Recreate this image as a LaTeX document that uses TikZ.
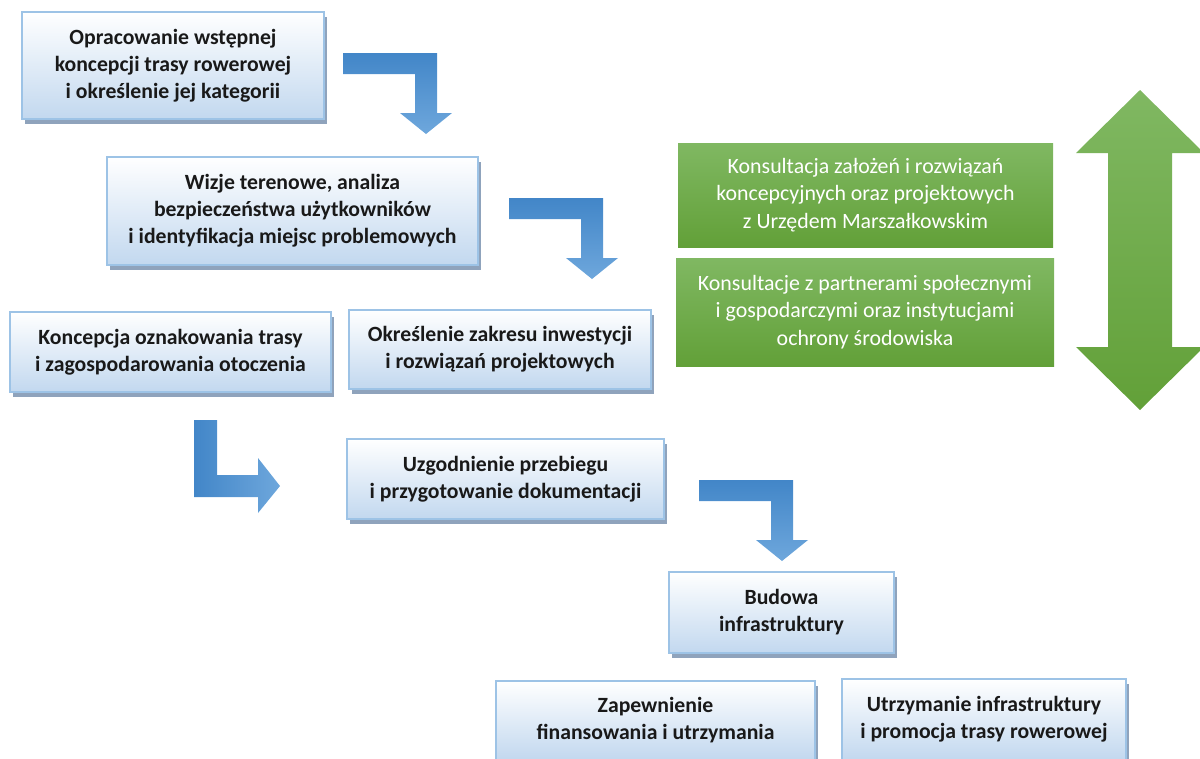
\documentclass[tikz,border=0pt]{standalone}
\usepackage{fontspec}
\setmainfont{Carlito}
\usetikzlibrary{shadows}

\begin{document}
\begin{tikzpicture}[x=0.75pt, y=-0.75pt,
  box/.style={draw=boxedge, line width=1.5pt,
    top color=white, bottom color=boxblue,
    drop shadow={fill=boxshade, opacity=1,
                 shadow xshift=2.25pt, shadow yshift=-3.5pt},
    align=center, text=black!90,
    font=\bfseries\fontsize{16.3pt}{20.25pt}\selectfont},
  consult/.style={top color=greentop, bottom color=greenbot,
    align=center, text=white,
    font=\fontsize{16.4pt}{20.6pt}\selectfont}]

\definecolor{boxedge}{RGB}{157,195,230}
\definecolor{boxblue}{RGB}{194,216,239}
\definecolor{boxshade}{RGB}{143,163,188}
\definecolor{arrowdark}{RGB}{66,134,200}
\definecolor{arrowlight}{RGB}{110,167,220}
\definecolor{greentop}{RGB}{128,184,98}
\definecolor{greenbot}{RGB}{98,160,56}

\useasboundingbox (0,0) rectangle (1200,758);
\clip (0,0) rectangle (1200,758);

% The bent arrows go first; they sit between the boxes and touch none.
\foreach \ax/\ay in {343/53, 509/198, 699/480}
  \shade[top color=arrowdark, bottom color=arrowlight, shift={(\ax,\ay)}]
    (0,0) -- (94,0) -- (94,60) -- (109,60) -- (83,81)
    -- (57,60) -- (72,60) -- (72,21) -- (0,21) -- cycle;

% this one turns the other way
\shade[left color=arrowdark, right color=arrowlight]
  (194,420) -- (217,420) -- (217,475) -- (258,475) -- (258,458)
  -- (280,486) -- (258,513) -- (258,497) -- (194,497) -- cycle;

% Double arrow on the right, cut off by the page edge.
\shade[top color=greentop, bottom color=greenbot]
  (1140,90) -- (1204,153) -- (1172,153) -- (1172,347) -- (1204,347)
  -- (1140,410) -- (1076,347) -- (1108,347) -- (1108,153) -- (1076,153)
  -- cycle;

% Now the boxes, top to bottom.
\node[box, minimum width=226.5pt, minimum height=80.25pt] (opr) at (173,65.5)
  {Opracowanie wstępnej\\koncepcji trasy rowerowej\\i określenie jej kategorii};
\node[box, minimum width=278.25pt, minimum height=81pt] (wiz) at (292.5,211)
  {Wizje terenowe, analiza\\bezpieczeństwa użytkowników\\i identyfikacja miejsc problemowych};
\node[box, minimum width=240.75pt, minimum height=60pt] (kon) at (170.5,352)
  {Koncepcja oznakowania trasy\\i zagospodarowania otoczenia};
\node[box, minimum width=226.5pt, minimum height=59.25pt] (okr) at (500,349.5)
  {Określenie zakresu inwestycji\\i rozwiązań projektowych};
\node[box, minimum width=237.75pt, minimum height=60pt] (uzg) at (505.5,479)
  {Uzgodnienie przebiegu\\i przygotowanie dokumentacji};
\node[box, minimum width=168.75pt, minimum height=60.75pt] (bud) at (781.5,612.5)
  {Budowa\\infrastruktury};
\node[box, minimum width=239.25pt, minimum height=59.25pt] (zap) at (655.5,720.5)
  {Zapewnienie\\finansowania i utrzymania};
\node[box, minimum width=213pt, minimum height=60.75pt] (utr) at (984,719.5)
  {Utrzymanie infrastruktury\\i promocja trasy rowerowej};

% green consultation boxes
\node[consult, minimum width=281.25pt, minimum height=78pt] (uml) at (865.5,195)
  {Konsultacja założeń i rozwiązań\\koncepcyjnych oraz projektowych\\z Urzędem Marszałkowskim};
\node[consult, minimum width=283.5pt, minimum height=81pt] (prt) at (865,312)
  {Konsultacje z partnerami społecznymi\\i gospodarczymi oraz instytucjami\\ochrony środowiska};
\end{tikzpicture}
\end{document}
